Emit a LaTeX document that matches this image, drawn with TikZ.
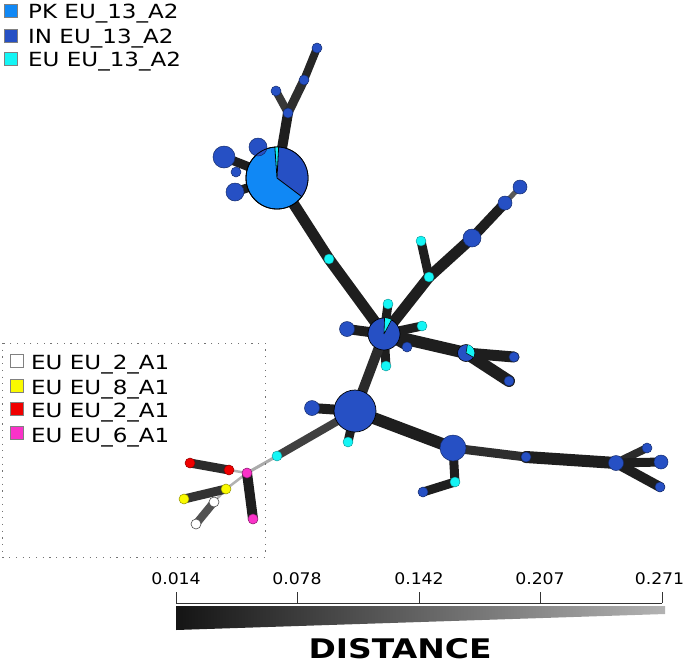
\documentclass[tikz,border=0pt]{standalone}
\usepackage{fontspec}
\setmainfont{DejaVu Sans}
\newfontfamily\legfont[FakeStretch=1.18]{DejaVu Sans}
\newfontfamily\tickfont[FakeStretch=1.08]{DejaVu Sans}
\newfontfamily\distfont[FakeStretch=1.22]{DejaVu Sans}
\usepackage{graphicx}
\pgfdeclarelayer{bg}
\pgfsetlayers{bg,main}
\definecolor{pkblue}{RGB}{16,136,245}
\definecolor{inblue}{RGB}{38,80,196}
\definecolor{cyanc}{RGB}{20,245,245}
\definecolor{magc}{RGB}{250,50,200}
\definecolor{redc}{RGB}{240,0,0}
\definecolor{yelc}{RGB}{250,250,0}
\definecolor{edk}{RGB}{30,30,30}
\tikzset{
  bn/.style={circle, fill=inblue, draw=inblue!55!black, line width=0.5pt, inner sep=0pt, minimum size=#1},
  cn/.style={circle, fill=cyanc, draw=cyanc!60!black, line width=0.4pt, inner sep=0pt, minimum size=10pt},
  an/.style={circle, fill=#1, draw=#1!60!black, line width=0.5pt, inner sep=0pt, minimum size=10pt},
  wn/.style={circle, fill=white, draw=black!70, line width=0.6pt, inner sep=0pt, minimum size=10pt},
  ed/.style={line width=#1, draw=edk, line cap=round},
  legsq/.style={draw=black!50, line width=0.6pt, minimum size=13pt, inner sep=0pt},
  legtx/.style={anchor=base west, inner sep=0pt, font=\legfont\fontsize{19.5}{22}\selectfont},
  leg2tx/.style={anchor=base west, inner sep=0pt, font=\legfont\fontsize{19.5}{22}\selectfont},
  ticklab/.style={anchor=base, inner sep=0pt, font=\tickfont\fontsize{16}{18}\selectfont}
}
\begin{document}
\begin{tikzpicture}[x=1pt,y=-1pt]
\useasboundingbox (0,0) rectangle (685,665);
% ---------- legend top ----------
\node[legsq, fill=pkblue] (lq1) at (11,11) {};
\node[legsq, fill=inblue] (lq2) at (11,35.5) {};
\node[legsq, fill=cyanc] (lq3) at (11,59) {};
\node[legtx] (lt1) at (28,18) {PK EU\_13\_A2};
\node[legtx] (lt2) at (28,43) {IN EU\_13\_A2};
\node[legtx] (lt3) at (28,66.5) {EU EU\_13\_A2};
% ---------- legend box ----------
\draw[black!55, line width=1pt, dash pattern=on 1.2pt off 5.5pt] (2,343) rectangle (265,557);
\node[legsq, fill=white] (mq1) at (16.5,361) {};
\node[legsq, fill=yelc] (mq2) at (16.5,386) {};
\node[legsq, fill=redc] (mq3) at (16.5,409) {};
\node[legsq, fill=magc] (mq4) at (16.5,433) {};
\node[leg2tx] (mt1) at (31,369) {EU EU\_2\_A1};
\node[leg2tx] (mt2) at (31,394) {EU EU\_8\_A1};
\node[leg2tx] (mt3) at (31,417) {EU EU\_2\_A1};
\node[leg2tx] (mt4) at (31,442) {EU EU\_6\_A1};
% ---------- nodes ----------
\node[circle, draw=black, line width=0.8pt, fill=pkblue, minimum size=62pt, inner sep=0pt] (P1) at (277,178) {};
\node[bn=22pt] (s1) at (224,157) {};
\node[bn=18pt] (s2) at (258,147) {};
\node[bn=10pt] (s4) at (236,172) {};
\node[bn=18pt] (s3) at (235,192) {};
\node[bn=10pt] (a1) at (288,113) {};
\node[bn=10pt] (a2) at (276,91) {};
\node[bn=10pt] (a3) at (304,80) {};
\node[bn=10pt] (a4) at (317,48) {};
\node[cn] (c1) at (329,259) {};
\node[circle, draw=black, line width=0.7pt, fill=inblue, minimum size=32pt, inner sep=0pt] (H1) at (384,334) {};
\node[bn=15pt] (b1) at (347,329) {};
\node[cn] (c2) at (388,304) {};
\node[cn] (c3) at (422,326) {};
\node[bn=10pt] (b2) at (407,347) {};
\node[cn] (c4) at (386,366) {};
\node[cn] (c5) at (429,277) {};
\node[cn] (c6) at (421,241) {};
\node[bn=18pt] (b3) at (472,238) {};
\node[bn=14pt] (b4) at (505,203) {};
\node[bn=14pt] (b5) at (520,187) {};
\node[circle, draw=black, line width=0.6pt, fill=inblue, minimum size=17pt, inner sep=0pt] (pn) at (466,353) {};
\node[bn=10pt] (b6) at (514,357) {};
\node[bn=10pt] (b7) at (509,381) {};
\node[circle, draw=black, line width=0.7pt, fill=inblue, minimum size=42pt, inner sep=0pt] (H2) at (355,411) {};
\node[bn=15pt] (b8) at (312,408) {};
\node[cn] (c7) at (348,442) {};
\node[bn=26pt] (H3) at (453,448) {};
\node[cn] (c9) at (455,482) {};
\node[bn=10pt] (b9) at (423,492) {};
\node[bn=10pt] (b10) at (526,457) {};
\node[bn=15pt] (b11) at (616,463) {};
\node[bn=10pt] (b12) at (647,448) {};
\node[bn=14pt] (b13) at (661,462) {};
\node[bn=10pt] (b14) at (660,487) {};
\node[cn] (c8) at (277,456) {};
\node[an=magc] (M1) at (247,473) {};
\node[an=redc] (R2) at (229,470) {};
\node[an=redc] (R1) at (190,463) {};
\node[an=yelc] (Y2) at (226,489) {};
\node[an=yelc] (Y1) at (184,499) {};
\node[wn] (W2) at (214,502) {};
\node[wn] (W1) at (196,524) {};
\node[an=magc] (M2) at (253,519) {};
% ---------- pie wedges ----------
\fill[inblue] (P1.center) -- ++(-37:31pt) arc[start angle=-37, end angle=87, radius=31pt] -- cycle;
\fill[cyanc] (P1.center) -- ++(87:31pt) arc[start angle=87, end angle=94, radius=31pt] -- cycle;
\draw[black, line width=0.8pt] (P1.center) -- ++(-37:31pt) (P1.center) -- ++(87:31pt) (P1.center) -- ++(94:31pt);
\draw[black, line width=0.8pt] (P1.center) circle[radius=31pt];
\fill[cyanc] (H1.center) -- ++(62:16pt) arc[start angle=62, end angle=88, radius=16pt] -- cycle;
\draw[black, line width=0.6pt] (H1.center) -- ++(62:16pt) (H1.center) -- ++(88:16pt);
\fill[cyanc] (pn.center) -- ++(-30:8.5pt) arc[start angle=-30, end angle=80, radius=8.5pt] -- cycle;
\draw[black, line width=0.5pt] (pn.center) -- ++(-30:8.5pt) (pn.center) -- ++(80:8.5pt);
% ---------- edges ----------
\begin{pgfonlayer}{bg}
\draw[ed=10pt] (P1.center) -- (a1.center);
\draw[ed=8pt, draw=black!78] (a1.center) -- (a2.center);
\draw[ed=9pt, draw=black!82] (a1.center) -- (a3.center);
\draw[ed=8pt, draw=black!85] (a3.center) -- (a4.center);
\draw[ed=9pt] (P1.center) -- (s1.center);
\draw[ed=9pt] (P1.center) -- (s3.center);
\draw[ed=8pt] (P1.center) -- (s2.center);
\draw[ed=11pt] (P1.center) -- (c1.center);
\draw[ed=11pt] (c1.center) -- (H1.center);
\draw[ed=10pt] (H1.center) -- (b1.center);
\draw[ed=9pt] (H1.center) -- (c2.center);
\draw[ed=9pt] (H1.center) -- (c3.center);
\draw[ed=8pt] (H1.center) -- (b2.center);
\draw[ed=9pt] (H1.center) -- (c4.center);
\draw[ed=11pt] (H1.center) -- (c5.center);
\draw[ed=9pt] (c5.center) -- (c6.center);
\draw[ed=11pt] (c5.center) -- (b3.center);
\draw[ed=10pt] (b3.center) -- (b4.center);
\draw[ed=5pt, draw=black!65] (b4.center) -- (b5.center);
\draw[ed=12pt] (H1.center) -- (pn.center);
\draw[ed=11pt] (pn.center) -- (b6.center);
\draw[ed=12pt] (pn.center) -- (b7.center);
\draw[ed=10pt, draw=black!83] (H1.center) -- (H2.center);
\draw[ed=10pt] (H2.center) -- (b8.center);
\draw[ed=9pt] (H2.center) -- (c7.center);
\draw[ed=12pt] (H2.center) -- (H3.center);
\draw[ed=8pt, draw=black!75] (H2.center) -- (c8.center);
\draw[ed=3pt, draw=black!33] (c8.center) -- (M1.center);
\draw[ed=9pt] (H3.center) -- (c9.center);
\draw[ed=9pt] (c9.center) -- (b9.center);
\draw[ed=9pt, draw=black!82] (H3.center) -- (b10.center);
\draw[ed=12pt] (b10.center) -- (b11.center);
\draw[ed=8pt, draw=black!83] (b11.center) -- (b12.center);
\draw[ed=9pt] (b11.center) -- (b13.center);
\draw[ed=10pt] (b11.center) -- (b14.center);
\draw[ed=2.5pt, draw=black!30] (M1.center) -- (R2.center);
\draw[ed=9pt, draw=black!83] (R2.center) -- (R1.center);
\draw[ed=2.5pt, draw=black!30] (M1.center) -- (Y2.center);
\draw[ed=2.5pt, draw=black!30] (Y2.center) -- (W2.center);
\draw[ed=9pt, draw=black!80] (Y2.center) -- (Y1.center);
\draw[ed=8pt, draw=black!68] (W2.center) -- (W1.center);
\draw[ed=10pt] (M1.center) -- (M2.center);
\end{pgfonlayer}
% ---------- scale ----------
\coordinate (sL) at (176,603);
\coordinate (sR) at (662,603);
\draw[black!80, line width=0.8pt] (sL) -- (sR);
\foreach \x/\lx/\lab [count=\i] in {176/176/0.014, 297/297/0.078, 419/419/0.142, 540/540/0.207, 662/659.5/0.271}{
  \draw[black!80, line width=0.8pt] (\x,592) -- (\x,603);
  \node[ticklab] (tl\i) at (\lx,584.5) {\lab};
}
\shade[left color=black!92, right color=black!30] (176,606) -- (665,606) -- (665,614) -- (176,630) -- cycle;
\node[anchor=base, inner sep=0pt, font=\distfont\bfseries\fontsize{27}{30}\selectfont] (dist) at (400,658) {DISTANCE};
\end{tikzpicture}
\end{document}
